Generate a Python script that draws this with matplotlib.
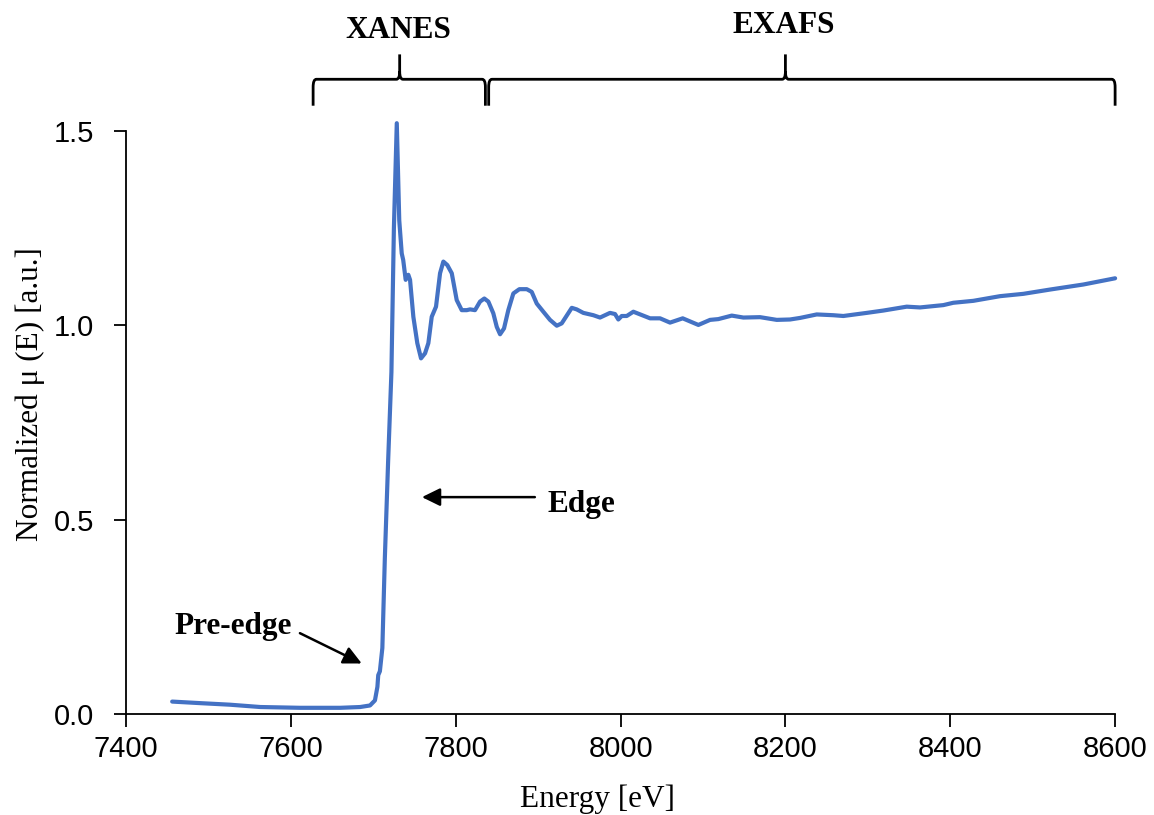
import matplotlib
matplotlib.use("Agg")
import matplotlib.pyplot as plt
from matplotlib.path import Path
from matplotlib.patches import PathPatch

# XAS spectrum
energy_ev = [
    7456, 7490, 7526, 7563, 7611, 7660, 7684, 7696, 7702, 7705, 7706, 7708,
    7711, 7714, 7718, 7722, 7725, 7728.5, 7731.5, 7734.5, 7736.3, 7739.3,
    7742.5, 7744.6, 7748.6, 7753.4, 7757.9, 7762.8, 7766.8, 7770.9, 7776.1,
    7781.0, 7785.0, 7789.8, 7795.2, 7801.2, 7807.3, 7813.4, 7817.4, 7823.4,
    7829.5, 7834.7, 7839.6, 7845.6, 7849.8, 7853.8, 7858.6, 7863.8, 7869.9,
    7877.2, 7886.2, 7892.2, 7898.3, 7906.3, 7914.4, 7922.6, 7928.6, 7940.8,
    7946.8, 7954.8, 7967.0, 7975.1, 7987.2, 7993.3, 7997.3, 8001.4, 8007.5,
    8015.5, 8035.8, 8047.9, 8060.0, 8075.4, 8094.4, 8108.6, 8118.6, 8134.9,
    8149.0, 8169.2, 8189.5, 8205.6, 8217.7, 8238.0, 8258.1, 8270.3, 8298.7,
    8318.8, 8347.2, 8363.3, 8391.6, 8403.7, 8428.0, 8460.4, 8488.7, 8521.0,
    8561.5, 8600,
]
mu_norm = [
    0.032, 0.028, 0.024, 0.018, 0.016, 0.016, 0.018, 0.022, 0.035, 0.070, 0.100, 0.110,
    0.170, 0.400, 0.650, 0.880, 1.250, 1.520, 1.270, 1.185, 1.168, 1.117,
    1.130, 1.117, 1.022, 0.954, 0.915, 0.928, 0.954, 1.022, 1.048,
    1.134, 1.164, 1.155, 1.134, 1.065, 1.039, 1.039, 1.041, 1.039,
    1.061, 1.069, 1.061, 1.031, 0.996, 0.977, 0.992, 1.039, 1.082,
    1.093, 1.093, 1.086, 1.056, 1.035, 1.014, 0.999, 1.005, 1.045,
    1.041, 1.032, 1.026, 1.020, 1.032, 1.029, 1.015, 1.024, 1.024,
    1.035, 1.018, 1.018, 1.007, 1.018, 1.001, 1.014, 1.016, 1.025,
    1.020, 1.021, 1.014, 1.015, 1.019, 1.028, 1.026, 1.024, 1.032,
    1.038, 1.048, 1.046, 1.052, 1.058, 1.063, 1.075, 1.081, 1.092,
    1.105, 1.121,
]

x_ticks = [7400, 7600, 7800, 8000, 8200, 8400, 8600]
y_ticks = [0.0, 0.5, 1.0, 1.5]
y_tick_labels = ["0.0", "0.5", "1.0", "1.5"]

# region brackets: (left, tip, right, label)
regions = [
    (7627, 7732, 7836, "XANES"),
    (7840, 8200, 8600, "EXAFS"),
]

SERIF = "Liberation Serif"
SANS = "Liberation Sans"
BLUE = "#4472C4"

fig = plt.figure(figsize=(11.54, 8.15), dpi=100)
ax = fig.add_axes([0.1092, 0.1239, 0.8571, 0.7154])

ax.plot(energy_ev, mu_norm, color=BLUE, lw=3.0, clip_on=False,
        solid_joinstyle="round", solid_capstyle="round")

ax.set_xlim(7400, 8600)
ax.set_ylim(0, 1.5)
ax.set_xticks(x_ticks)
ax.set_yticks(y_ticks)
ax.set_yticklabels(y_tick_labels)
for lab in ax.get_xticklabels() + ax.get_yticklabels():
    lab.set_fontfamily(SANS)
    lab.set_fontsize(21)
ax.tick_params(direction="out", length=9, width=1.3, color="black")
ax.tick_params(axis="x", pad=6)
ax.tick_params(axis="y", pad=14)
for side in ("top", "right"):
    ax.spines[side].set_visible(False)
for side in ("left", "bottom"):
    ax.spines[side].set_linewidth(1.3)

fig.text(0.518, 0.010, "Energy [eV]", family=SERIF, fontsize=22.5, ha="center", va="baseline")
fig.text(0.026, 0.517, "Normalized \u03bc (E) [a.u.]", family=SERIF, fontsize=22.5,
         ha="center", va="center", rotation=90)


def brace(x0, xm, x1, y_end, y_bar, y_tip, r_x=4.0, r_y=0.02):
    verts = [
        (x0, y_end), (x0, y_bar - r_y), (x0, y_bar), (x0 + r_x, y_bar),
        (xm - r_x, y_bar), (xm, y_bar), (xm, y_bar + r_y), (xm, y_tip),
        (xm, y_bar + r_y), (xm, y_bar), (xm + r_x, y_bar),
        (x1 - r_x, y_bar), (x1, y_bar), (x1, y_bar - r_y), (x1, y_end),
    ]
    codes = [
        Path.MOVETO, Path.LINETO, Path.CURVE3, Path.CURVE3,
        Path.LINETO, Path.CURVE3, Path.CURVE3, Path.LINETO,
        Path.MOVETO, Path.CURVE3, Path.CURVE3,
        Path.LINETO, Path.CURVE3, Path.CURVE3, Path.LINETO,
    ]
    return PathPatch(Path(verts, codes), fill=False, lw=2.0, color="black", clip_on=False)


for (left, tip, right, label), y_text in zip(regions, [1.739, 1.752]):
    ax.add_patch(brace(left, tip, right, 1.565, 1.633, 1.697))
    ax.text(tip - 2, y_text, label, family=SERIF, fontweight="bold", fontsize=22.5,
            ha="center", va="baseline", clip_on=False)

arrow_style = dict(arrowstyle="-|>,head_length=0.55,head_width=0.27", mutation_scale=20,
                   color="black", lw=1.8, shrinkA=0, shrinkB=0)

ax.annotate("", xy=(7759, 0.558), xytext=(7896, 0.558), arrowprops=arrow_style)
ax.text(7911, 0.52, "Edge", family=SERIF, fontweight="bold", fontsize=22.5,
        ha="left", va="baseline")

ax.annotate("", xy=(7686, 0.130), xytext=(7611, 0.208), arrowprops=arrow_style)
ax.text(7530, 0.206, "Pre-edge", family=SERIF, fontweight="bold", fontsize=22.5,
        ha="center", va="baseline")

fig.savefig("out.png", dpi=100)
